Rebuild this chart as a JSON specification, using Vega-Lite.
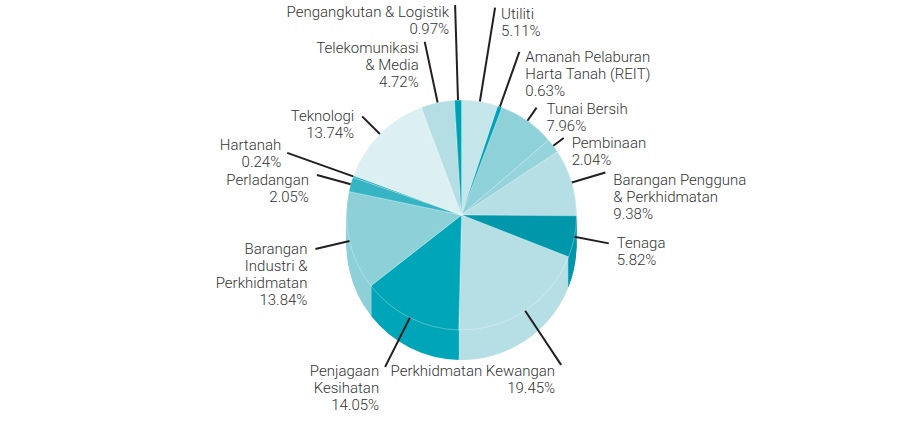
{
  "$schema": "https://vega.github.io/schema/vega-lite/v6.json",
  "width": 923,
  "height": 425,
  "autosize": {"type": "fit", "contains": "padding"},
  "padding": 0,
  "background": "#ffffff",
  "config": {"view": {"stroke": null}},
  "data": {
    "values": [
      {"n": 1, "name": "Utiliti", "value": 5.11, "label": "Utiliti\n5.11%"},
      {"n": 2, "name": "Amanah Pelaburan Harta Tanah (REIT)", "value": 0.63, "label": "Amanah Pelaburan\nHarta Tanah (REIT)\n0.63%"},
      {"n": 3, "name": "Tunai Bersih", "value": 7.96, "label": "Tunai Bersih\n7.96%"},
      {"n": 4, "name": "Pembinaan", "value": 2.04, "label": "Pembinaan\n2.04%"},
      {"n": 5, "name": "Barangan Pengguna & Perkhidmatan", "value": 9.38, "label": "Barangan Pengguna\n& Perkhidmatan\n9.38%"},
      {"n": 6, "name": "Tenaga", "value": 5.82, "label": "Tenaga\n5.82%"},
      {"n": 7, "name": "Perkhidmatan Kewangan", "value": 19.45, "label": "Perkhidmatan Kewangan\n19.45%"},
      {"n": 8, "name": "Penjagaan Kesihatan", "value": 14.05, "label": "Penjagaan\nKesihatan\n14.05%"},
      {"n": 9, "name": "Barangan Industri & Perkhidmatan", "value": 13.84, "label": "Barangan\nIndustri &\nPerkhidmatan\n13.84%"},
      {"n": 10, "name": "Perladangan", "value": 2.05, "label": "Perladangan\n2.05%"},
      {"n": 11, "name": "Hartanah", "value": 0.24, "label": "Hartanah\n0.24%"},
      {"n": 12, "name": "Teknologi", "value": 13.74, "label": "Teknologi\n13.74%"},
      {"n": 13, "name": "Telekomunikasi & Media", "value": 4.72, "label": "Telekomunikasi\n& Media\n4.72%"},
      {"n": 14, "name": "Pengangkutan & Logistik", "value": 0.97, "label": "Pengangkutan & Logistik\n0.97%"}
    ]
  },
  "encoding": {
    "theta": {"field": "value", "type": "quantitative", "stack": true},
    "order": {"field": "n", "type": "quantitative"},
    "color": {
      "field": "name",
      "type": "nominal",
      "legend": null,
      "scale": {
        "domain": ["Utiliti", "Amanah Pelaburan Harta Tanah (REIT)", "Tunai Bersih", "Pembinaan", "Barangan Pengguna & Perkhidmatan", "Tenaga", "Perkhidmatan Kewangan", "Penjagaan Kesihatan", "Barangan Industri & Perkhidmatan", "Perladangan", "Hartanah", "Teknologi", "Telekomunikasi & Media", "Pengangkutan & Logistik"],
        "range": ["#c4e5ea", "#00a3b5", "#8fd1d9", "#95d4db", "#b6dfe5", "#0097aa", "#b6dfe5", "#00a6b7", "#8ed0d8", "#35b4c3", "#12a5b6", "#dcf0f3", "#b4dee4", "#00a1b3"]
      }
    }
  },
  "layer": [
    {"mark": {"type": "arc", "radius": 115, "yOffset": 32.5}},
    {"mark": {"type": "arc", "radius": 115, "yOffset": 30.5}},
    {"mark": {"type": "arc", "radius": 115, "yOffset": 28.5}},
    {"mark": {"type": "arc", "radius": 115, "yOffset": 26.5}},
    {"mark": {"type": "arc", "radius": 115, "yOffset": 24.5}},
    {"mark": {"type": "arc", "radius": 115, "yOffset": 22.5}},
    {"mark": {"type": "arc", "radius": 115, "yOffset": 20.5}},
    {"mark": {"type": "arc", "radius": 115, "yOffset": 18.5}},
    {"mark": {"type": "arc", "radius": 115, "yOffset": 16.5}},
    {"mark": {"type": "arc", "radius": 115, "yOffset": 14.5}},
    {"mark": {"type": "arc", "radius": 115, "yOffset": 12.5}},
    {"mark": {"type": "arc", "radius": 115, "yOffset": 10.5}},
    {"mark": {"type": "arc", "radius": 115, "yOffset": 8.5}},
    {"mark": {"type": "arc", "radius": 115, "yOffset": 6.5}},
    {"mark": {"type": "arc", "radius": 115, "yOffset": 4.5}},
    {"mark": {"type": "arc", "radius": 115, "yOffset": 2.5, "stroke": "#ffffff", "strokeWidth": 0.6, "strokeOpacity": 0.5}},

    {"mark": {"type": "arc", "filled": false, "radius": 210, "radius2": 115, "padAngle": 3.1416, "strokeWidth": 2, "yOffset": 2.5},
     "encoding": {"color": {"value": "#231f20"}, "strokeOpacity": {"condition": {"test": "datum.n === 1 || datum.n === 14", "value": 1}, "value": 0}}},
    {"mark": {"type": "arc", "filled": false, "radius": 173, "radius2": 115, "padAngle": 3.1416, "strokeWidth": 2, "yOffset": 2.5},
     "encoding": {"color": {"value": "#231f20"}, "strokeOpacity": {"condition": {"test": "datum.n === 2", "value": 1}, "value": 0}}},
    {"mark": {"type": "arc", "filled": false, "radius": 131, "radius2": 115, "padAngle": 3.1416, "strokeWidth": 2, "yOffset": 2.5},
     "encoding": {"color": {"value": "#231f20"}, "strokeOpacity": {"condition": {"test": "datum.n === 3", "value": 1}, "value": 0}}},
    {"mark": {"type": "arc", "filled": false, "radius": 128, "radius2": 115, "padAngle": 3.1416, "strokeWidth": 2, "yOffset": 2.5},
     "encoding": {"color": {"value": "#231f20"}, "strokeOpacity": {"condition": {"test": "datum.n === 4", "value": 1}, "value": 0}}},
    {"mark": {"type": "arc", "filled": false, "radius": 150, "radius2": 115, "padAngle": 3.1416, "strokeWidth": 2, "yOffset": 2.5},
     "encoding": {"color": {"value": "#231f20"}, "strokeOpacity": {"condition": {"test": "datum.n === 5 || datum.n === 6 || datum.n === 9 || datum.n === 10", "value": 1}, "value": 0}}},
    {"mark": {"type": "arc", "filled": false, "radius": 180, "radius2": 115, "padAngle": 3.1416, "strokeWidth": 2, "yOffset": 2.5},
     "encoding": {"color": {"value": "#231f20"}, "strokeOpacity": {"condition": {"test": "datum.n === 7", "value": 1}, "value": 0}}},
    {"mark": {"type": "arc", "filled": false, "radius": 170, "radius2": 115, "padAngle": 3.1416, "strokeWidth": 2, "yOffset": 2.5},
     "encoding": {"color": {"value": "#231f20"}, "strokeOpacity": {"condition": {"test": "datum.n === 8", "value": 1}, "value": 0}}},
    {"mark": {"type": "arc", "filled": false, "radius": 185, "radius2": 115, "padAngle": 3.1416, "strokeWidth": 2, "yOffset": 2.5},
     "encoding": {"color": {"value": "#231f20"}, "strokeOpacity": {"condition": {"test": "datum.n === 11", "value": 1}, "value": 0}}},
    {"mark": {"type": "arc", "filled": false, "radius": 140, "radius2": 115, "padAngle": 3.1416, "strokeWidth": 2, "yOffset": 2.5},
     "encoding": {"color": {"value": "#231f20"}, "strokeOpacity": {"condition": {"test": "datum.n === 12", "value": 1}, "value": 0}}},
    {"mark": {"type": "arc", "filled": false, "radius": 177, "radius2": 115, "padAngle": 3.1416, "strokeWidth": 2, "yOffset": 2.5},
     "encoding": {"color": {"value": "#231f20"}, "strokeOpacity": {"condition": {"test": "datum.n === 13", "value": 1}, "value": 0}}},

    {"mark": {"type": "text", "radius": 210, "align": "left", "baseline": "top", "dx": 6, "dy": -1, "yOffset": 2.5, "lineBreak": "\n", "font": "Roboto", "fontSize": 15, "fontWeight": 300, "lineHeight": 17},
     "encoding": {"color": {"value": "#333333"}, "text": {"condition": {"test": "datum.n === 1", "field": "label"}, "value": ""}}},
    {"mark": {"type": "text", "radius": 173, "align": "left", "baseline": "top", "dx": 6, "dy": -2, "yOffset": 2.5, "lineBreak": "\n", "font": "Roboto", "fontSize": 15, "fontWeight": 300, "lineHeight": 17},
     "encoding": {"color": {"value": "#333333"}, "text": {"condition": {"test": "datum.n === 2", "field": "label"}, "value": ""}}},
    {"mark": {"type": "text", "radius": 131, "align": "left", "baseline": "top", "dx": 10, "dy": -6, "yOffset": 2.5, "lineBreak": "\n", "font": "Roboto", "fontSize": 15, "fontWeight": 300, "lineHeight": 17},
     "encoding": {"color": {"value": "#333333"}, "text": {"condition": {"test": "datum.n === 3", "field": "label"}, "value": ""}}},
    {"mark": {"type": "text", "radius": 128, "align": "left", "baseline": "top", "dx": 8, "dy": -2, "yOffset": 2.5, "lineBreak": "\n", "font": "Roboto", "fontSize": 15, "fontWeight": 300, "lineHeight": 17},
     "encoding": {"color": {"value": "#333333"}, "text": {"condition": {"test": "datum.n === 4", "field": "label"}, "value": ""}}},
    {"mark": {"type": "text", "radius": 150, "align": "left", "baseline": "top", "dx": 8, "dy": 0, "yOffset": 2.5, "lineBreak": "\n", "font": "Roboto", "fontSize": 15, "fontWeight": 300, "lineHeight": 17},
     "encoding": {"color": {"value": "#333333"}, "text": {"condition": {"test": "datum.n === 5", "field": "label"}, "value": ""}}},
    {"mark": {"type": "text", "radius": 150, "align": "left", "baseline": "middle", "dx": 8, "dy": 0, "yOffset": 2.5, "lineBreak": "\n", "font": "Roboto", "fontSize": 15, "fontWeight": 300, "lineHeight": 17},
     "encoding": {"color": {"value": "#333333"}, "text": {"condition": {"test": "datum.n === 6", "field": "label"}, "value": ""}}},
    {"mark": {"type": "text", "radius": 180, "align": "right", "baseline": "top", "dx": -6, "dy": -1, "yOffset": 2.5, "lineBreak": "\n", "font": "Roboto", "fontSize": 15, "fontWeight": 300, "lineHeight": 17},
     "encoding": {"color": {"value": "#333333"}, "text": {"condition": {"test": "datum.n === 7", "field": "label"}, "value": ""}}},
    {"mark": {"type": "text", "radius": 170, "align": "right", "baseline": "top", "dx": -6, "dy": -3, "yOffset": 2.5, "lineBreak": "\n", "font": "Roboto", "fontSize": 15, "fontWeight": 300, "lineHeight": 17},
     "encoding": {"color": {"value": "#333333"}, "text": {"condition": {"test": "datum.n === 8", "field": "label"}, "value": ""}}},
    {"mark": {"type": "text", "radius": 150, "align": "right", "baseline": "middle", "dx": -8, "dy": 0, "yOffset": 2.5, "lineBreak": "\n", "font": "Roboto", "fontSize": 15, "fontWeight": 300, "lineHeight": 17},
     "encoding": {"color": {"value": "#333333"}, "text": {"condition": {"test": "datum.n === 9", "field": "label"}, "value": ""}}},
    {"mark": {"type": "text", "radius": 150, "align": "right", "baseline": "top", "dx": -8, "dy": -2, "yOffset": 2.5, "lineBreak": "\n", "font": "Roboto", "fontSize": 15, "fontWeight": 300, "lineHeight": 17},
     "encoding": {"color": {"value": "#333333"}, "text": {"condition": {"test": "datum.n === 10", "field": "label"}, "value": ""}}},
    {"mark": {"type": "text", "radius": 185, "align": "right", "baseline": "bottom", "dx": -6, "dy": 0, "yOffset": 2.5, "lineBreak": "\n", "font": "Roboto", "fontSize": 15, "fontWeight": 300, "lineHeight": 17},
     "encoding": {"color": {"value": "#333333"}, "text": {"condition": {"test": "datum.n === 11", "field": "label"}, "value": ""}}},
    {"mark": {"type": "text", "radius": 140, "align": "right", "baseline": "middle", "dx": -8, "dy": 0, "yOffset": 2.5, "lineBreak": "\n", "font": "Roboto", "fontSize": 15, "fontWeight": 300, "lineHeight": 17},
     "encoding": {"color": {"value": "#333333"}, "text": {"condition": {"test": "datum.n === 12", "field": "label"}, "value": ""}}},
    {"mark": {"type": "text", "radius": 177, "align": "right", "baseline": "top", "dx": -6, "dy": -1, "yOffset": 2.5, "lineBreak": "\n", "font": "Roboto", "fontSize": 15, "fontWeight": 300, "lineHeight": 17},
     "encoding": {"color": {"value": "#333333"}, "text": {"condition": {"test": "datum.n === 13", "field": "label"}, "value": ""}}},
    {"mark": {"type": "text", "radius": 210, "align": "right", "baseline": "top", "dx": -6, "dy": 0, "yOffset": 2.5, "lineBreak": "\n", "font": "Roboto", "fontSize": 15, "fontWeight": 300, "lineHeight": 17},
     "encoding": {"color": {"value": "#333333"}, "text": {"condition": {"test": "datum.n === 14", "field": "label"}, "value": ""}}}
  ]
}
